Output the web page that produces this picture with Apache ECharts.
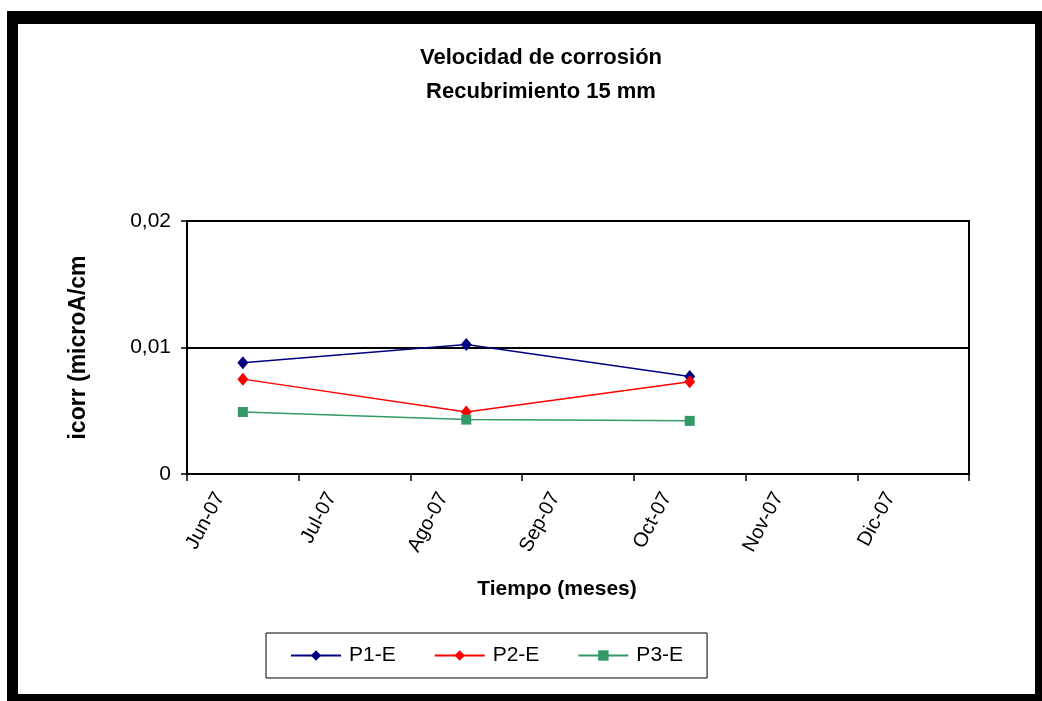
<!DOCTYPE html>
<html style="height: 100%">
<head>
	<meta charset="utf-8">
	<script src="https://cdn.jsdelivr.net/npm/echarts@6/dist/echarts.min.js"></script>
</head>
<body style="height: 100%; margin: 0; background: #fff">
<div id="container" style="width: 1042px; height: 701px"></div>
<script type="text/javascript">
    // datos
    var meses = ["Jun-07", "Jul-07", "Ago-07", "Sep-07", "Oct-07", "Nov-07", "Dic-07"];
    var p1 = [0.0088, null, 0.01024, null, 0.0077, null, null];
    var p2 = [0.0075, null, 0.0049, null, 0.0073, null, null];
    var p3 = [0.0049, null, 0.0043, null, 0.0042, null, null];

    var fuente = '"Liberation Sans", Arial, sans-serif';

    function serie(nombre, datos, color, simbolo, tam) {
        return {
            name: nombre,
            type: 'line',
            data: datos,
            connectNulls: true,
            symbol: simbolo,
            symbolSize: tam,
            showAllSymbol: true,
            lineStyle: { color: color, width: 1.5 },
            itemStyle: { color: color },
            emphasis: { disabled: true }
        };
    }

    var myChart = echarts.init(document.getElementById('container'));
    var option = {
        backgroundColor: '#fff',
        animation: false,
        textStyle: { fontFamily: fuente, color: '#000' },
        graphic: [
            // marco negro alrededor
            { type: 'rect', silent: true, shape: { x: 7, y: 11, width: 1035, height: 13 }, style: { fill: '#000' } },
            { type: 'rect', silent: true, shape: { x: 7, y: 11, width: 11, height: 690 }, style: { fill: '#000' } },
            { type: 'rect', silent: true, shape: { x: 1035, y: 11, width: 7, height: 690 }, style: { fill: '#000' } },
            { type: 'rect', silent: true, shape: { x: 7, y: 694, width: 1035, height: 7 }, style: { fill: '#000' } }
        ],
        title: {
            text: 'Velocidad de corrosión\nRecubrimiento 15 mm',
            left: 536,
            top: 36,
            textAlign: 'center',
            textStyle: {
                fontFamily: fuente,
                fontSize: 22,
                fontWeight: 'bold',
                color: '#000',
                lineHeight: 34
            }
        },
        legend: {
            data: ['P1-E', 'P2-E', 'P3-E'],
            left: 266,
            top: 633,
            padding: [12, 24, 12, 24],
            itemGap: 38,
            itemWidth: 50,
            itemHeight: 13,
            borderColor: '#000',
            borderWidth: 1,
            textStyle: { fontFamily: fuente, fontSize: 21, color: '#000', padding: [0, 0, 0, 3] }
        },
        grid: {
            left: 187,
            right: 73,
            top: 221,
            bottom: 227,
            show: true,
            borderColor: '#000',
            borderWidth: 2
        },
        xAxis: {
            type: 'category',
            data: meses,
            boundaryGap: true,
            name: 'Tiempo (meses)',
            nameLocation: 'middle',
            nameGap: 105,
            nameTextStyle: {
                fontFamily: fuente,
                fontSize: 21,
                fontWeight: 'bold',
                color: '#000',
                padding: [0, 42, 0, 0]
            },
            axisLine: { lineStyle: { color: '#000', width: 2 } },
            axisTick: { show: true, length: 7, lineStyle: { color: '#000', width: 1.5 } },
            axisLabel: {
                interval: 0,
                rotate: 62,
                margin: -2,
                padding: [0, 30, 0, 0],
                verticalAlign: 'bottom',
                fontFamily: fuente,
                fontSize: 20,
                color: '#000'
            }
        },
        yAxis: {
            type: 'value',
            min: 0,
            max: 0.02,
            interval: 0.01,
            name: 'icorr (microA/cm',
            nameLocation: 'middle',
            nameGap: 97,
            nameTextStyle: {
                fontFamily: fuente,
                fontSize: 23,
                fontWeight: 'bold',
                color: '#000'
            },
            axisLine: { show: true, lineStyle: { color: '#000', width: 2 } },
            axisTick: { show: true, length: 6, lineStyle: { color: '#000', width: 1.5 } },
            axisLabel: {
                margin: 16,
                fontFamily: fuente,
                fontSize: 21,
                color: '#000',
                formatter: function (v) {
                    return String(v).replace('.', ',');
                }
            },
            splitLine: { show: true, lineStyle: { color: '#000', width: 2 } }
        },
        series: [
            serie('P1-E', p1, '#000080', 'diamond', [11, 13]),
            serie('P2-E', p2, '#ff0000', 'diamond', [11, 13]),
            serie('P3-E', p3, '#339966', 'rect', 10)
        ]
    };

    myChart.setOption(option);
</script>
</body>
</html>
